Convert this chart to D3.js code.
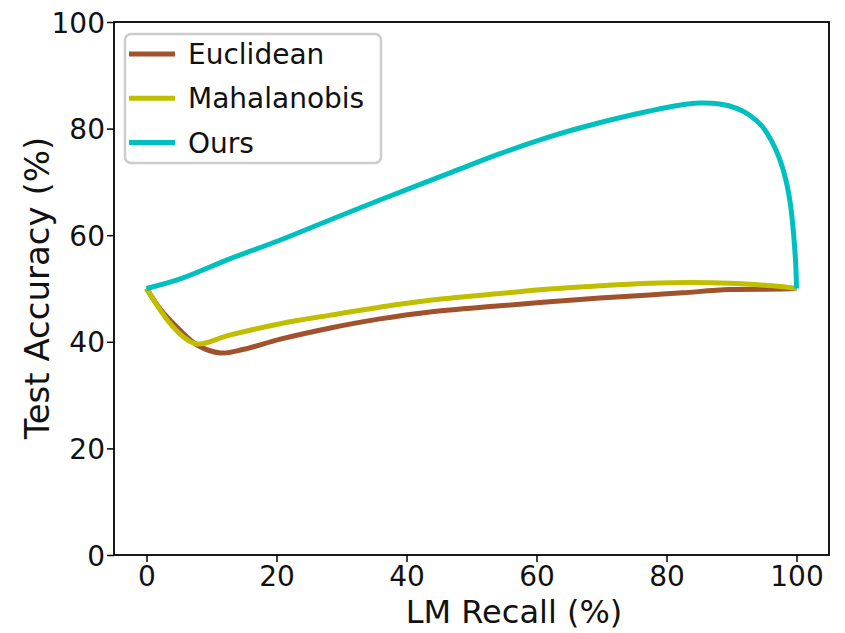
<!DOCTYPE html>
<html><head><meta charset="utf-8">
<script src="https://cdn.jsdelivr.net/npm/d3@7"></script>
<style>body{margin:0;background:#fff}svg{display:block}text{font-family:"DejaVu Sans",sans-serif}</style>
</head><body><svg id="c" width="845" height="633"></svg>
<script>
const xTicks = [0,20,40,60,80,100];
const yTicks = [0,20,40,60,80,100];
const seriesNames = ["Euclidean","Mahalanobis","Ours"];
const seriesColors = ["#a0522d","#bfbf00","#00bfbf"];

const euclidX = [0,2.2,4.8,7.8,11.4,15,20.6,28.3,35.9,43.6,53.9,62,69.7,77.4,82.5,89.7,97.8,100];
const euclidY = [50,46.0,42.6,39.4,37.9,38.6,40.5,42.6,44.3,45.6,46.7,47.5,48.2,48.8,49.2,49.8,49.9,50];
const mahaX = [0,0.6,3.2,5.7,7.8,12.9,20.6,28.3,35.9,43.6,53.9,62,69.7,77.4,89.7,96.3,100];
const mahaY = [50,48.8,44.1,40.9,39.6,41.3,43.4,45.0,46.5,47.8,49.0,49.9,50.5,51.0,51.0,50.5,50];
const oursX = [0,5.2,12.9,20.6,28.3,35.9,46.7,54.4,62.1,69.7,77.4,81.5,85.1,88.2,90.8,92.8,94.8,96.2,97.4,98.4,99.1,99.6,99.9,100];
const oursY = [50,51.8,55.6,59.1,62.9,66.6,71.7,75.3,78.5,81.1,83.3,84.3,84.8,84.6,83.8,82.5,80.3,77.6,74.3,70.2,65.5,59.5,54.0,50];

const svg = d3.select("#c");
const L=114,R=829,T=22,B=555;
const x = d3.scaleLinear().domain([-5,105]).range([L,R]);
const y = d3.scaleLinear().domain([0,100]).range([B,T]);

const series = [
  {name:seriesNames[0],color:seriesColors[0],xs:euclidX,ys:euclidY},
  {name:seriesNames[1],color:seriesColors[1],xs:mahaX,ys:mahaY},
  {name:seriesNames[2],color:seriesColors[2],xs:oursX,ys:oursY}
];
const line = d3.line().x(d=>x(d[0])).y(d=>y(d[1])).curve(d3.curveCatmullRom.alpha(0.5));
svg.append("defs").append("clipPath").attr("id","clip").append("rect").attr("x",L).attr("y",T).attr("width",R-L).attr("height",B-T);
const g = svg.append("g").attr("clip-path","url(#clip)");
series.forEach(s=>{
  g.append("path").datum(s.xs.map((v,i)=>[v,s.ys[i]]))
   .attr("d",line).attr("fill","none").attr("stroke",s.color).attr("stroke-width",5).attr("stroke-linejoin","round");
});

// axes
const xAxis = d3.axisBottom(x).tickValues(xTicks).tickSize(7).tickPadding(4);
const yAxis = d3.axisLeft(y).tickValues(yTicks).tickSize(7).tickPadding(2);
const gx = svg.append("g").attr("transform",`translate(0,${B})`).call(xAxis);
const gy = svg.append("g").attr("transform",`translate(${L},0)`).call(yAxis);
[gx,gy].forEach(a=>{
  a.select(".domain").remove();
  a.selectAll("line").attr("stroke","#000").attr("stroke-width",1.5);
  a.selectAll("text").attr("font-size",28).attr("fill","#111").style("font-family","DejaVu Sans");
});
gy.selectAll("text").attr("dy","0.36em");
svg.append("rect").attr("x",L).attr("y",T).attr("width",R-L).attr("height",B-T)
  .attr("fill","none").attr("stroke","#000").attr("stroke-width",1.8);

svg.append("text").attr("x",514).attr("y",623).attr("text-anchor","middle")
  .attr("font-size",32).attr("fill","#111").text("LM Recall (%)");
svg.append("text").attr("transform","translate(49,288) rotate(-90)").attr("text-anchor","middle")
  .attr("font-size",34).attr("fill","#111").text("Test Accuracy (%)");

// legend
const lg = svg.append("g");
lg.append("rect").attr("x",125).attr("y",34).attr("width",256).attr("height",129).attr("rx",6)
  .attr("fill","#fff").attr("fill-opacity",0.8).attr("stroke","#cccccc").attr("stroke-width",2.5);
series.forEach((s,i)=>{
  const yy = 54 + i*44.3;
  lg.append("line").attr("x1",129).attr("x2",175).attr("y1",yy).attr("y2",yy)
    .attr("stroke",s.color).attr("stroke-width",5);
  lg.append("text").attr("x",188).attr("y",yy).attr("dy","0.36em").attr("font-size",28)
    .attr("fill","#111").text(s.name);
});
</script></body></html>
